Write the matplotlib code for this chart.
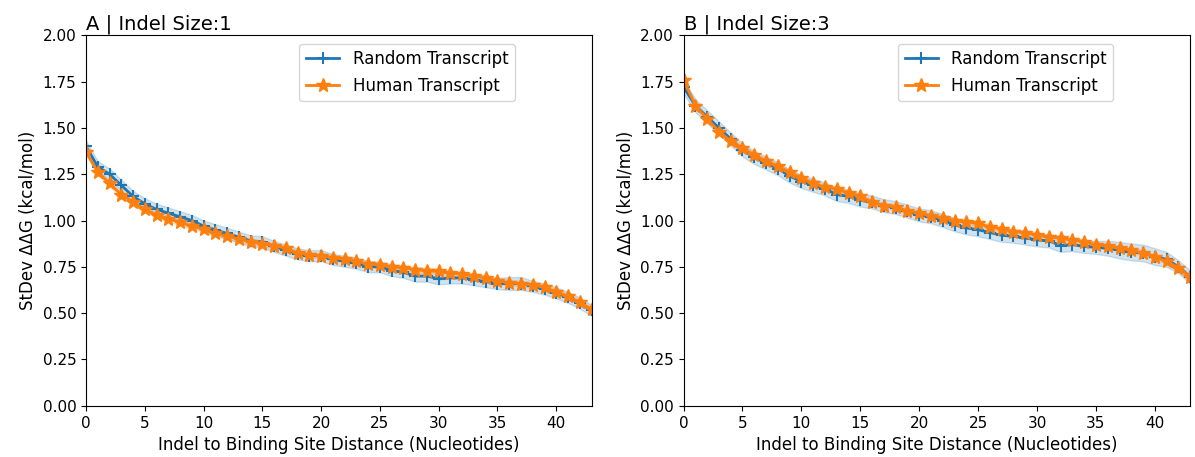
import numpy as np
import matplotlib
matplotlib.use("Agg")
import matplotlib.pyplot as plt

dist = list(range(44))

# panel A, indel size 1
rand_1 = [1.40, 1.29, 1.25, 1.19, 1.13, 1.09, 1.06, 1.04, 1.02, 1.00,
          0.97, 0.95, 0.93, 0.91, 0.89, 0.885, 0.86, 0.84, 0.82, 0.81,
          0.81, 0.79, 0.78, 0.77, 0.75, 0.75, 0.73, 0.72, 0.70, 0.70,
          0.685, 0.69, 0.69, 0.68, 0.67, 0.66, 0.66, 0.66, 0.645, 0.63,
          0.61, 0.585, 0.555, 0.515]
rand_1_sd = [0.03, 0.03, 0.03, 0.03, 0.03, 0.03, 0.03, 0.03, 0.03, 0.03,
             0.03, 0.03, 0.03, 0.03, 0.03, 0.03, 0.03, 0.03, 0.03, 0.03,
             0.03, 0.03, 0.03, 0.03, 0.03, 0.03, 0.03, 0.03, 0.03, 0.03,
             0.03, 0.03, 0.03, 0.03, 0.03, 0.03, 0.035, 0.035, 0.03, 0.03,
             0.03, 0.03, 0.03, 0.03]
hum_1 = [1.37, 1.26, 1.20, 1.14, 1.10, 1.06, 1.03, 1.01, 0.99, 0.97,
         0.955, 0.93, 0.915, 0.90, 0.885, 0.875, 0.865, 0.85, 0.825, 0.815,
         0.81, 0.80, 0.79, 0.78, 0.765, 0.76, 0.75, 0.745, 0.735, 0.73,
         0.725, 0.715, 0.71, 0.70, 0.69, 0.675, 0.665, 0.66, 0.65, 0.64,
         0.615, 0.59, 0.56, 0.52]
hum_1_sd = [0.015] * 44

# panel B, indel size 3
rand_3 = [1.72, 1.62, 1.56, 1.50, 1.44, 1.38, 1.34, 1.31, 1.28, 1.24,
          1.21, 1.19, 1.17, 1.14, 1.13, 1.11, 1.10, 1.08, 1.07, 1.05,
          1.03, 1.02, 1.00, 0.977, 0.96, 0.95, 0.935, 0.92, 0.915, 0.905,
          0.895, 0.89, 0.865, 0.87, 0.86, 0.855, 0.85, 0.84, 0.83, 0.825,
          0.805, 0.79, 0.75, 0.695]
rand_3_sd = [0.035, 0.035, 0.035, 0.035, 0.035, 0.035, 0.035, 0.035, 0.035, 0.035,
             0.035, 0.035, 0.035, 0.035, 0.035, 0.035, 0.035, 0.035, 0.035, 0.035,
             0.035, 0.035, 0.035, 0.035, 0.035, 0.035, 0.035, 0.035, 0.035, 0.035,
             0.035, 0.035, 0.035, 0.035, 0.035, 0.035, 0.04, 0.045, 0.045, 0.045,
             0.045, 0.04, 0.035, 0.035]
hum_3 = [1.76, 1.62, 1.55, 1.48, 1.43, 1.39, 1.355, 1.32, 1.295, 1.26,
         1.23, 1.20, 1.18, 1.17, 1.15, 1.13, 1.10, 1.08, 1.075, 1.05,
         1.04, 1.025, 1.015, 1.00, 0.99, 0.985, 0.965, 0.955, 0.94, 0.935,
         0.92, 0.91, 0.905, 0.895, 0.885, 0.87, 0.86, 0.85, 0.84, 0.825,
         0.805, 0.78, 0.745, 0.695]
hum_3_sd = [0.015] * 44

panels = [("A | Indel Size:1", rand_1, rand_1_sd, hum_1, hum_1_sd),
          ("B | Indel Size:3", rand_3, rand_3_sd, hum_3, hum_3_sd)]

fig = plt.figure(figsize=(11.95, 4.57), dpi=100)
positions = [[0.072, 0.112, 0.423, 0.811], [0.572, 0.112, 0.424, 0.811]]

for pos, (title, r, rsd, h, hsd) in zip(positions, panels):
    ax = fig.add_axes(pos)
    x = np.array(dist)
    r = np.array(r); rsd = np.array(rsd)
    h = np.array(h); hsd = np.array(hsd)
    ax.plot(x, r, marker='+', color='tab:blue', lw=2, ms=8, mew=1.5, label='Random Transcript')
    ax.fill_between(x, r - rsd, r + rsd, color='tab:blue', alpha=0.2)
    ax.plot(x, h, marker='*', color='tab:orange', lw=2, ms=10, label='Human Transcript')
    ax.fill_between(x, h - hsd, h + hsd, color='tab:orange', alpha=0.2)
    ax.set_xlim(0, 43)
    ax.set_ylim(0, 2)
    ax.set_yticks(np.arange(0, 2.01, 0.25))
    ax.set_title(title, loc='left', fontsize=14, pad=4)
    ax.set_xlabel('Indel to Binding Site Distance (Nucleotides)', fontsize=12)
    ax.set_ylabel('StDev ΔΔG (kcal/mol)', fontsize=12)
    ax.tick_params(labelsize=11)
    ax.legend(loc='upper right', bbox_to_anchor=(0.865, 1.0), fontsize=12)

fig.savefig('out.png', dpi=100)
